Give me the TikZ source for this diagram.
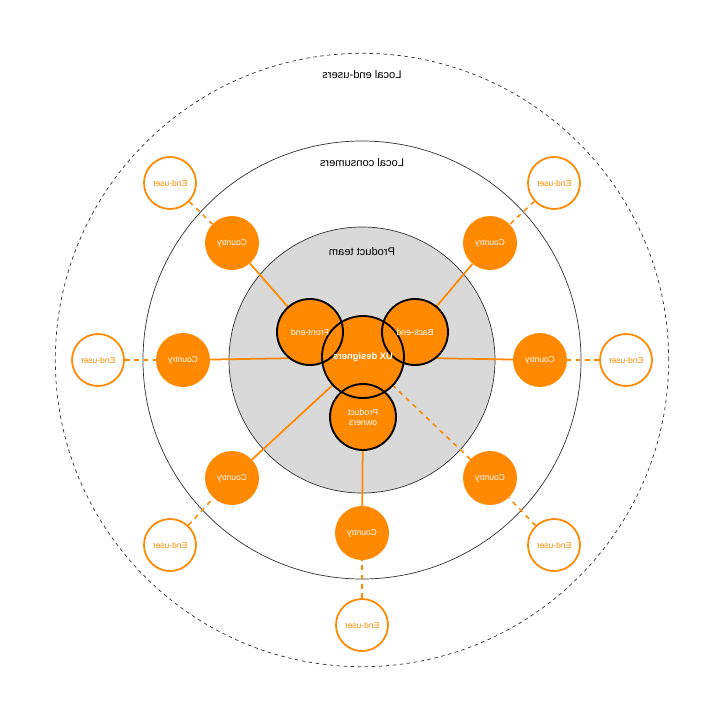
\documentclass[tikz,border=0pt]{standalone}
\usepackage{fontspec}
\setmainfont{Liberation Sans}
\usetikzlibrary{backgrounds}
\definecolor{uxorange}{RGB}{255,137,0}
\definecolor{teamgray}{RGB}{217,217,217}
\pgfdeclarelayer{mid}
\pgfsetlayers{background,mid,main}

\begin{document}
\begin{tikzpicture}[x=0.03cm,y=-0.03cm,
	mirror/.style={xscale=-1},
	ring/.style={draw=black!80,line width=0.6pt},
	label/.style={mirror,font=\fontsize{9.5}{11}\selectfont},
	team/.style={circle,fill=uxorange,minimum size=1.98cm,inner sep=0pt},
	teamrim/.style={circle,draw=black,line width=1.6pt,minimum size=1.98cm,inner sep=0pt},
	teamtext/.style={mirror,text=white,font=\fontsize{7.5}{8.5}\selectfont,align=center},
	country/.style={circle,fill=uxorange,minimum size=1.62cm,inner sep=0pt,mirror,text=white,font=\fontsize{7.3}{8}\selectfont},
	enduser/.style={circle,draw=uxorange,fill=white,line width=1.5pt,minimum size=1.56cm,inner sep=0pt,mirror,text=uxorange,font=\fontsize{7.3}{8}\selectfont},
	link/.style={draw=uxorange,line width=1.5pt},
	weak/.style={draw=uxorange,line width=1.3pt,dashed,dash pattern=on 4pt off 4pt}]
	\useasboundingbox (0,0) rectangle (721,721);
	% rings
	\coordinate (o) at (362,360);
	\begin{scope}[on background layer]
		\fill[white] (0,0) rectangle (721,721);
		\draw[ring,dashed] (o) circle[radius=9.2cm];
		\draw[ring] (o) circle[radius=6.57cm];
		\draw[ring,fill=teamgray] (o) circle[radius=3.99cm];
	\end{scope}
	\node[label] (lend) at (362,75) {Local end-users};
	\node[label] (lcon) at (362,163) {Local consumers};
	\node[label] (lteam) at (362,252) {Product team};
	% product team
	\node[team] (fe) at (310,332) {};
	\node[team] (be) at (415,332) {};
	\node[team] (po) at (363,417) {};
	\node[team,minimum size=2.46cm] (ux) at (363,357) {};
	\foreach \n in {fe,be,po} \node[teamrim] at (\n) {};
	\node[teamrim,minimum size=2.46cm] at (ux) {};
	\node[teamtext] at (fe) {Front-end};
	\node[teamtext] at (be) {Back-end};
	\node[teamtext] at (po) {Product\\owners};
	\node[teamtext,font=\fontsize{8}{9}\selectfont\bfseries] at (ux) {UX designers};
	% countries
	\node[country] (c1) at (232,243) {Country};
	\node[country] (c2) at (490,243) {Country};
	\node[country] (c3) at (183,360) {Country};
	\node[country] (c4) at (540,360) {Country};
	\node[country] (c5) at (232,478) {Country};
	\node[country] (c6) at (490,478) {Country};
	\node[country] (c7) at (362,533) {Country};
	% end-users
	\node[enduser] (e1) at (170,183) {End-user};
	\node[enduser] (e2) at (554,183) {End-user};
	\node[enduser] (e3) at (98,360) {End-user};
	\node[enduser] (e4) at (626,360) {End-user};
	\node[enduser] (e5) at (170,545) {End-user};
	\node[enduser] (e6) at (554,545) {End-user};
	\node[enduser] (e7) at (362,625) {End-user};
	\begin{pgfonlayer}{mid}
		\draw[link] (c1) -- (fe);
		\draw[link] (c2) -- (be);
		\draw[link] (c3) -- (ux);
		\draw[link] (c4) -- (ux);
		\draw[link] (c5) -- (ux);
		\draw[weak] (c6) -- (ux);
		\draw[link] (c7) -- (po);
		\foreach \i in {1,...,7} \draw[weak] (e\i) -- (c\i);
	\end{pgfonlayer}
\end{tikzpicture}
\end{document}
